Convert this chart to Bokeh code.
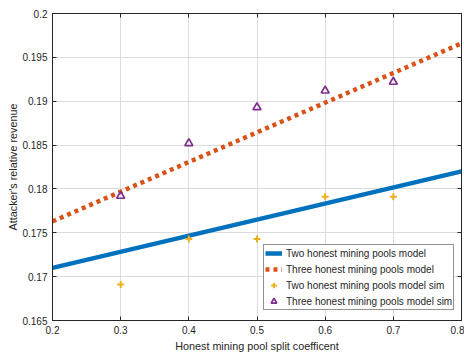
from bokeh.plotting import figure
from bokeh.models import LinearAxis, Range1d, Legend, LegendItem, FixedTicker
from bokeh.embed import file_html
from bokeh.resources import INLINE

# Data
model_x = [0.2, 0.8]
two_model = [0.1710, 0.1820]
three_model = [0.1763, 0.1966]
sim_x = [0.3, 0.4, 0.5, 0.6, 0.7]
two_sim = [0.1691, 0.1743, 0.1743, 0.1791, 0.1791]
three_sim = [0.1792, 0.1852, 0.1893, 0.1912, 0.1922]
x_ticks = [0.2, 0.3, 0.4, 0.5, 0.6, 0.7, 0.8]
x_labels = ["0.2", "0.3", "0.4", "0.5", "0.6", "0.7", "0.8"]
y_ticks = [0.165, 0.17, 0.175, 0.18, 0.185, 0.19, 0.195, 0.2]
y_labels = ["0.165", "0.17", "0.175", "0.18", "0.185", "0.19", "0.195", "0.2"]

FONT = "Liberation Sans"

p = figure(width=464, height=354, output_backend="svg", toolbar_location=None,
           x_range=Range1d(0.2, 0.8), y_range=Range1d(0.165, 0.2),
           x_axis_location=None, y_axis_location=None,
           min_border_left=52, min_border_right=3, min_border_top=13, min_border_bottom=34)
p.outline_line_color = "#262626"
p.outline_line_width = 1
p.background_fill_color = "white"
p.border_fill_color = "white"

def make_axis(ticks, labels, show_labels):
    a = LinearAxis(ticker=FixedTicker(ticks=ticks))
    a.major_tick_in = 4
    a.major_tick_out = 0
    a.minor_tick_in = 0
    a.minor_tick_out = 0
    a.axis_line_color = "#262626"
    a.major_tick_line_color = "#262626"
    a.major_label_text_font = FONT
    a.major_label_text_font_size = "10px"
    a.major_label_text_color = "#262626"
    if show_labels:
        a.major_label_overrides = dict(zip(ticks, labels))
    else:
        a.major_label_overrides = {t: "" for t in ticks}
        a.major_label_standoff = 0
    a.axis_label_text_font = FONT
    a.axis_label_text_font_size = "10.8px"
    a.axis_label_text_font_style = "normal"
    a.axis_label_text_color = "#262626"
    return a

xa = make_axis(x_ticks, x_labels, True)
xa.axis_label = "Honest mining pool split coefficent"
xa.major_label_standoff = 5
xa.axis_label_standoff = 3
p.add_layout(xa, "below")

ya = make_axis(y_ticks, y_labels, True)
ya.axis_label = "Attacker's relative revenue"
ya.major_label_standoff = 5
ya.axis_label_standoff = 0
p.add_layout(ya, "left")

ta = make_axis(x_ticks, x_labels, False)
p.add_layout(ta, "above")
ra = make_axis(y_ticks, y_labels, False)
p.add_layout(ra, "right")

p.xgrid.ticker = FixedTicker(ticks=x_ticks)
p.ygrid.ticker = FixedTicker(ticks=y_ticks)
p.xgrid.grid_line_color = "#dcdcdc"
p.ygrid.grid_line_color = "#dcdcdc"

r1 = p.line(model_x, two_model, line_color="#0072BD", line_width=4.5)
r2 = p.line(model_x, three_model, line_color="#D95319", line_width=4.5, line_dash="4 4")
r3 = p.scatter(sim_x, two_sim, marker="cross", size=7, line_color="#EDB120", line_width=2)
r4 = p.scatter(sim_x, three_sim, marker="triangle", size=8, line_color="#7E2F8E",
               fill_color=None, line_width=1.7)

legend = Legend(items=[
    LegendItem(label="Two honest mining pools model", renderers=[r1]),
    LegendItem(label="Three honest mining pools model", renderers=[r2]),
    LegendItem(label="Two honest mining pools model sim", renderers=[r3]),
    LegendItem(label="Three honest mining pools model sim", renderers=[r4]),
], location=(211, 10))
legend.label_text_font = FONT
legend.label_text_font_size = "10px"
legend.label_text_color = "#262626"
legend.border_line_color = "#262626"
legend.border_line_width = 1
legend.background_fill_alpha = 1
legend.margin = 0
legend.padding = 1
legend.spacing = 2
legend.glyph_height = 14
legend.glyph_width = 17
legend.label_height = 14
legend.label_standoff = 4
p.add_layout(legend, "center")

open("out.html", "w").write(file_html(p, INLINE))
